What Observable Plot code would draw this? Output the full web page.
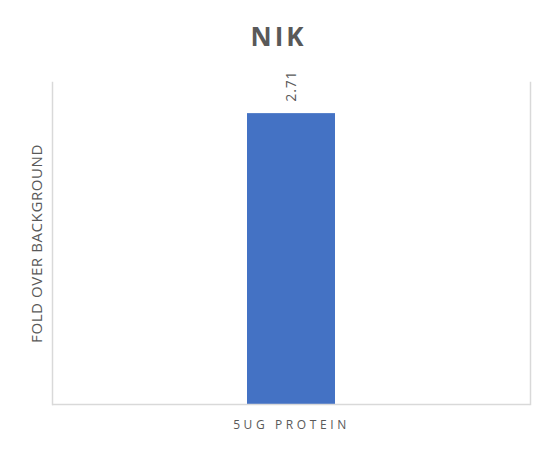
<!DOCTYPE html>
<html>
<head>
<meta charset="utf-8">
<script src="https://cdn.jsdelivr.net/npm/d3@7"></script>
<script src="https://cdn.jsdelivr.net/npm/@observablehq/plot@0.6"></script>
<style>
  html, body { margin: 0; padding: 0; background: #fff; }
  #chart svg { display: block; font-family: "Open Sans", sans-serif; }
</style>
</head>
<body>
<div id="chart"></div>
<script>
const title = "NIK";
const yLabel = "FOLD OVER BACKGROUND";
const categories = ["5UG PROTEIN"];
const values = [2.71];
const valueLabels = ["2.71"];
const yDomain = [0, 3];

const data = categories.map((c, i) => ({category: c, value: values[i], label: valueLabels[i]}));

const grey = "#595959";
const chart = Plot.plot({
  width: 553,
  height: 450,
  marginTop: 82,
  marginBottom: 46,
  marginLeft: 52,
  marginRight: 23,
  style: {fontFamily: "'Open Sans', sans-serif", color: grey, background: "#fff"},
  x: {domain: categories, padding: 0.689, axis: null},
  y: {domain: yDomain, axis: null},
  marks: [
    Plot.frame({anchor: "left", stroke: "#d9d9d9", strokeWidth: 1.5}),
    Plot.frame({anchor: "right", stroke: "#d9d9d9", strokeWidth: 1.5}),
    Plot.barY(data, {x: "category", y: "value", fill: "#4472C4"}),
    Plot.ruleY([0], {stroke: "#d9d9d9", strokeWidth: 1.5}),
    Plot.text(data, {x: "category", y: "value", text: "label", rotate: -90, textAnchor: "start", dy: -12, fontSize: 14, fill: grey, className: "val-label"}),
    Plot.text(data, {x: "category", text: "category", frameAnchor: "bottom", dy: 24, fontSize: 12, fill: grey, className: "x-label"}),
    Plot.text([yLabel], {frameAnchor: "left", rotate: -90, textAnchor: "middle", dx: -15, fontSize: 15, fill: grey, className: "y-label"}),
    Plot.text([title], {frameAnchor: "top", dy: -55, dx: -13, fontSize: 26, fontWeight: "bold", fill: grey, className: "title-label"})
  ]
});
document.getElementById("chart").appendChild(chart);
// letter spacing tweaks
d3.select(chart).selectAll(".x-label text").style("letter-spacing", "3.6px");
d3.select(chart).selectAll(".y-label text").style("letter-spacing", "0.6px");
d3.select(chart).selectAll(".val-label text").style("letter-spacing", "0.8px");
d3.select(chart).selectAll(".title-label text").style("letter-spacing", "3px");
</script>
</body>
</html>
